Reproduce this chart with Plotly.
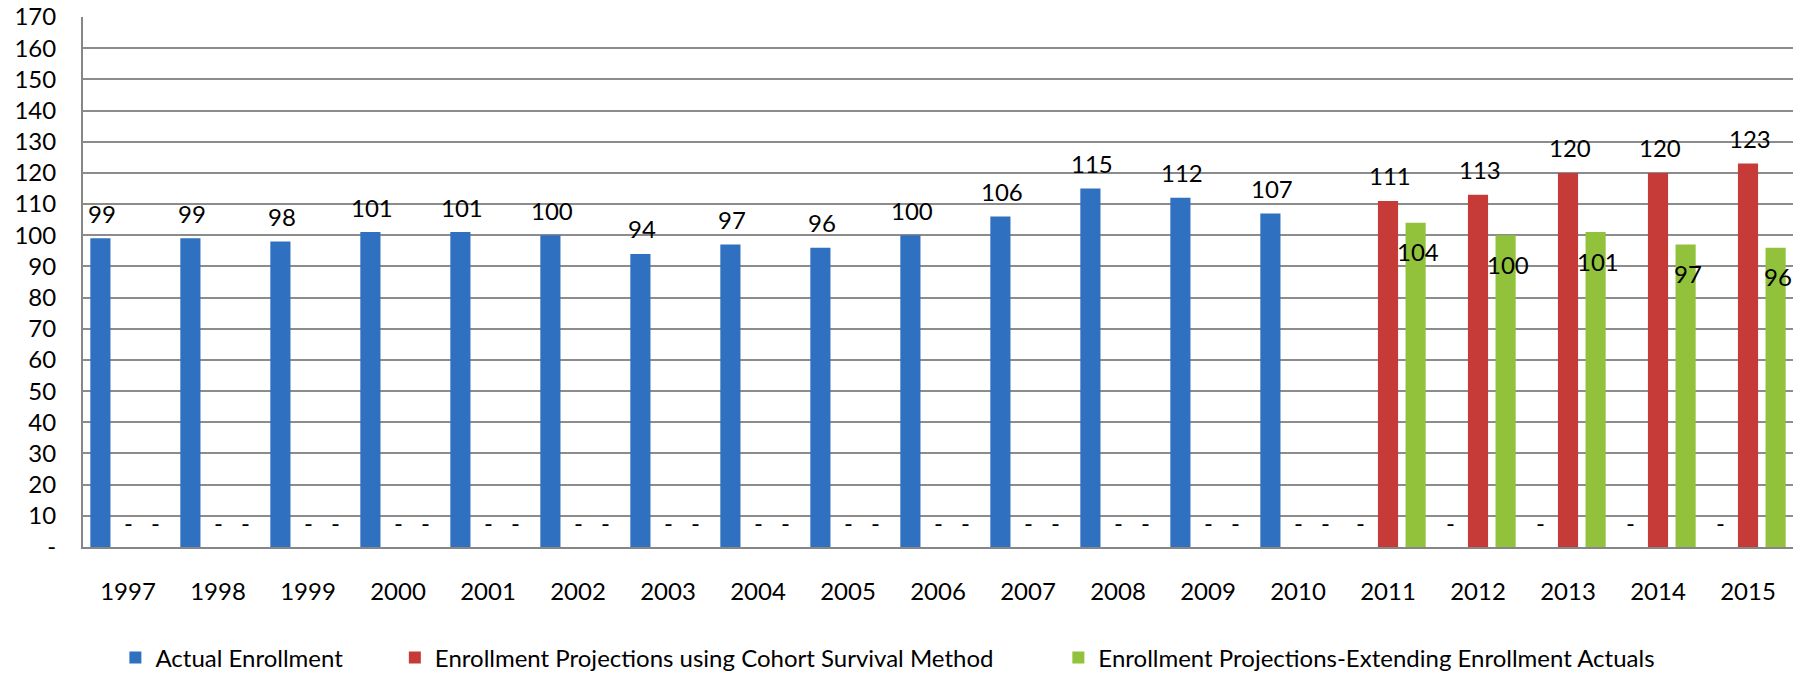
import plotly.graph_objects as go

# Data
years = [str(y) for y in range(1997, 2016)]
actual = [99, 99, 98, 101, 101, 100, 94, 97, 96, 100, 106, 115, 112, 107, 0, 0, 0, 0, 0]
cohort = [0] * 14 + [111, 113, 120, 120, 123]
extending = [0] * 14 + [104, 100, 101, 97, 96]
y_ticks = list(range(0, 180, 10))

SERIES = [
    ("Actual Enrollment", actual, "#3070C0"),
    ("Enrollment Projections using Cohort Survival Method", cohort, "#C63B37"),
    ("Enrollment Projections-Extending Enrollment Actuals", extending, "#92C13C"),
]

FONT = "Lato, 'Liberation Sans', Arial, sans-serif"
W, H = 1803, 674
M = dict(l=83, r=10, t=17, b=127)
BARGAP = 0.08
plot_w = W - M["l"] - M["r"]
slot = plot_w / len(years) * (1 - BARGAP) / len(SERIES)

fig = go.Figure()
annotations = []
legend_x = [0.064, 0.219, 0.587]
for i, (name, vals, color) in enumerate(SERIES):
    lg = "legend" if i == 0 else f"legend{i + 1}"
    fig.add_trace(go.Bar(
        x=years, y=vals, name=name,
        marker=dict(color=color, line=dict(width=0)),
        legend=lg, showlegend=True,
    ))
    shift = (i - 1) * slot
    # category axis: annotations take the category index
    for j, v in enumerate(vals):
        below = (i == 2 and v > 0)
        annotations.append(dict(
            x=j, y=v, xref="x", yref="y",
            text=str(v) if v else "-",
            showarrow=False, xshift=shift + (2 if v else 0),
            yshift=-29 if below else 25,
            font=dict(size=24, color="#000000", family=FONT),
        ))

legend_common = dict(
    orientation="h", yanchor="middle", y=0.024, xanchor="left",
    xref="container", yref="container",
    bgcolor="rgba(0,0,0,0)", font=dict(size=24, color="#000000", family=FONT),
    itemwidth=30,
)

fig.update_layout(
    width=W, height=H,
    margin=M,
    plot_bgcolor="#FFFFFF",
    paper_bgcolor="#FFFFFF",
    font=dict(family=FONT, size=24, color="#000000"),
    barmode="group",
    bargap=BARGAP,
    bargroupgap=0.27,
    annotations=annotations,
    showlegend=True,
    legend=dict(x=legend_x[0], **legend_common),
    legend2=dict(x=legend_x[1], **legend_common),
    legend3=dict(x=legend_x[2], **legend_common),
    xaxis=dict(
        type="category",
        range=[-0.5, len(years) - 0.5],
        automargin=False,
        showgrid=False, zeroline=False,
        showline=True, linecolor="#868686", linewidth=2,
        ticks="", ticklabelstandoff=22,
        tickfont=dict(size=24),
    ),
    yaxis=dict(
        range=[0, 170],
        automargin=False,
        tickvals=y_ticks,
        ticktext=["-" if t == 0 else str(t) for t in y_ticks],
        showgrid=True, gridcolor="#8C8C8C", gridwidth=1.5,
        zeroline=False,
        showline=True, linecolor="#868686", linewidth=2,
        ticks="", ticklabelstandoff=20,
        tickfont=dict(size=24),
    ),
)

# drop the default page margin so the figure sits at the window's corner
fig.write_html(
    "out.html",
    config={"displayModeBar": False},
    post_script="document.body.style.margin='0';",
)
